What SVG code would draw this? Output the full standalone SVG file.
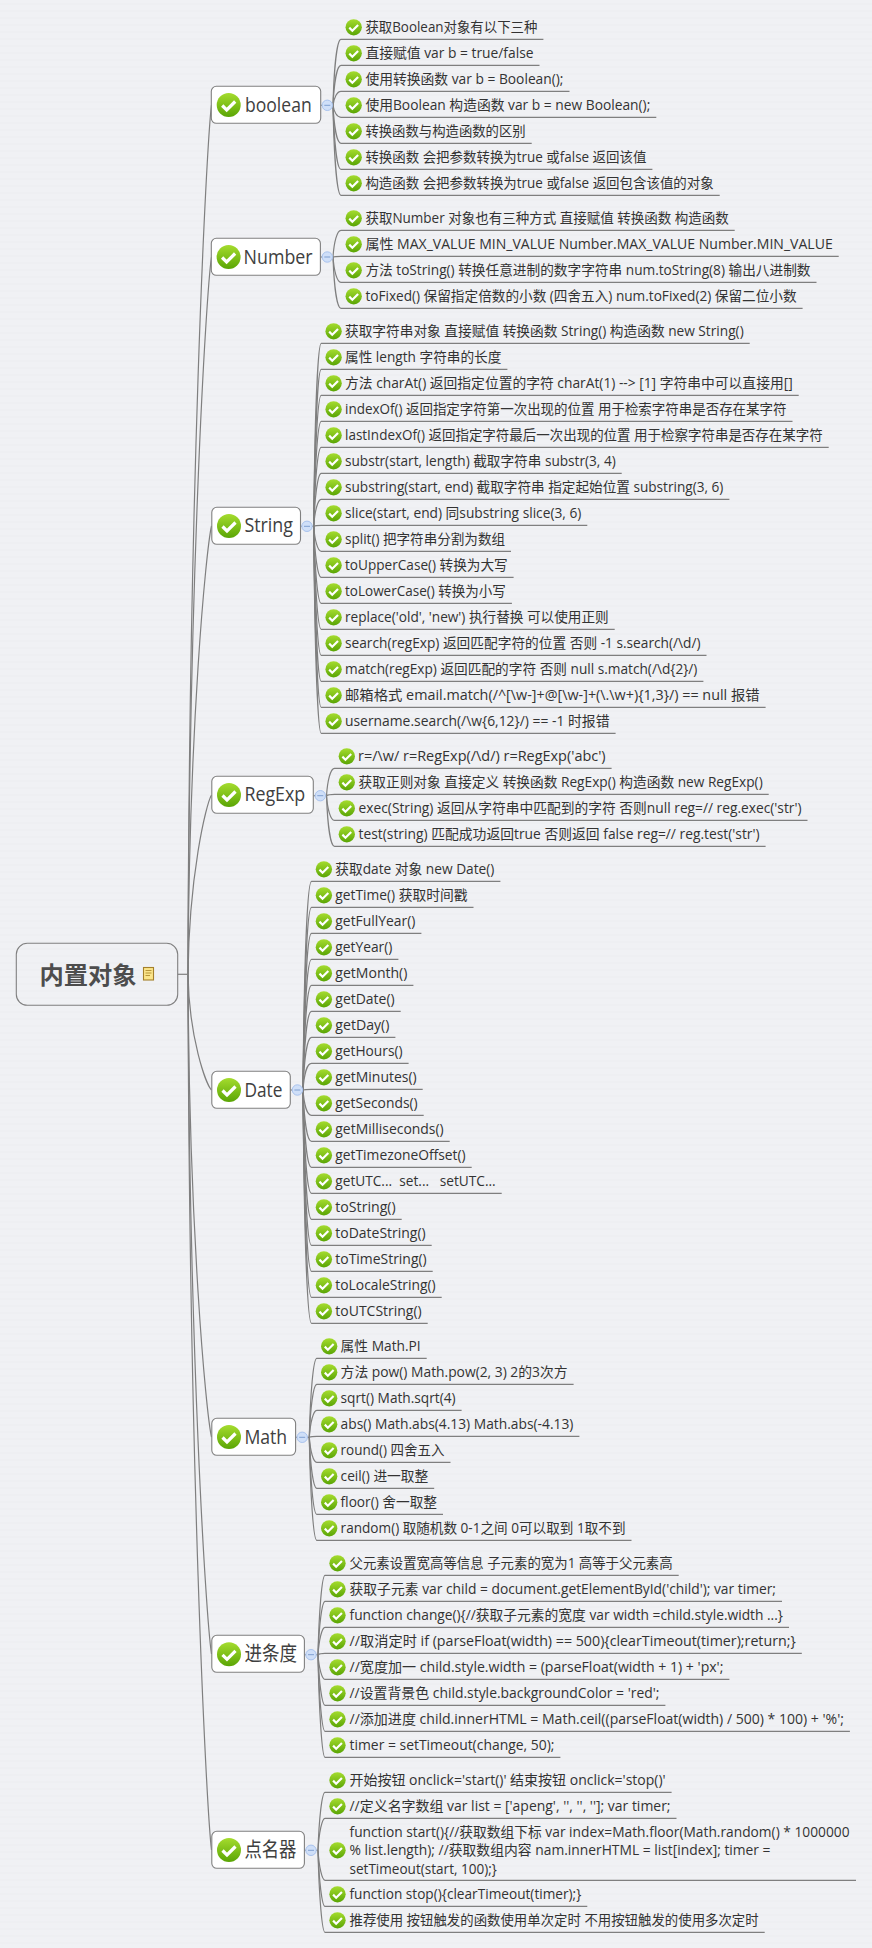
<svg xmlns="http://www.w3.org/2000/svg" width="872" height="1948" viewBox="0 0 872 1948">
<style>
text{font-family:"Open Sans","Noto Sans CJK SC",sans-serif;fill:#333;white-space:pre}
.c{font-size:13.9px}
.t{font-size:20.5px;fill:#404040}
.r{font-size:24px;font-weight:700;fill:#4d4d4d;font-family:"Noto Sans CJK SC",sans-serif}
.box{fill:#fff;stroke:#808080;stroke-width:1.1}
.lk{fill:none;stroke:#7f7f7f;stroke-width:1.2}
.btn{fill:#cfdff8;stroke:#a9c3ee;stroke-width:1}
.min{stroke:#7f9fd0;stroke-width:1}
</style>
<defs>
<pattern id="bg" width="8" height="7" patternUnits="userSpaceOnUse"><rect width="8" height="7" fill="#f0f1f4"/><rect y="3" width="8" height="2" fill="#eeeff2"/></pattern>
<linearGradient id="gr" x1="0" y1="0" x2="0" y2="1"><stop offset="0" stop-color="#a5dc2e"/><stop offset="1" stop-color="#5aa505"/></linearGradient>
<g id="ok"><circle r="12" fill="url(#gr)"/><path d="M-6.5 0.5L-2 5L6.5-3.5" fill="none" stroke="#fff" stroke-width="3.2"/></g>
<g id="btn"><circle r="5.2" class="btn"/><path d="M-3 0H3" class="min"/></g>
</defs>
<rect width="872" height="1948" fill="url(#bg)"/>
<g id="connectors" class="lk">
<path d="M177.7 974.3H188"/>
<path d="M188 974.3C189 496 206 150 211.5 105"/>
<path d="M188 974.3C189 580 206 294 211.5 257"/>
<path d="M188 974.3C189 728 206 550 211.5 526"/>
<path d="M188 974.3C189 876 206 804 211.5 795"/>
<path d="M188 974.3C189 1038 206 1084 211.5 1090"/>
<path d="M188 974.3C189 1229 206 1413 211.5 1437"/>
<path d="M188 974.3C189 1348 206 1619 211.5 1654"/>
<path d="M188 974.3C189 1456 206 1804 211.5 1850"/>
<path d="M320.7 105.3H333"/>
<path d="M333 105.3C334 69 337 39.3 341 39.3H543.4"/>
<path d="M333 105.3C334 83.3 337 65.3 341 65.3H539.5"/>
<path d="M333 105.3C334 97.6 337 91.3 341 91.3H569.5"/>
<path d="M333 105.3C334 111.9 337 117.3 341 117.3H656.3"/>
<path d="M333 105.3C334 126.2 337 143.3 341 143.3H531.7"/>
<path d="M333 105.3C334 140.5 337 169.3 341 169.3H652.4"/>
<path d="M333 105.3C334 154.8 337 195.3 341 195.3H719.7"/>
<path d="M320.4 257H333"/>
<path d="M333 257C334 242.3 337 230.3 341 230.3H734.7"/>
<path d="M333 257C334 256.6 337 256.3 341 256.3H838.7"/>
<path d="M333 257C334 270.9 337 282.3 341 282.3H816.5"/>
<path d="M333 257C334 285.2 337 308.3 341 308.3H802.6"/>
<path d="M300.5 526.3H313.7"/>
<path d="M313.7 526.3C314.7 425.6 317.7 343.3 321.2 343.3H749.7"/>
<path d="M313.7 526.3C314.7 440 317.7 369.3 321.2 369.3H507.4"/>
<path d="M313.7 526.3C314.7 454.3 317.7 395.3 321.2 395.3H798.7"/>
<path d="M313.7 526.3C314.7 468.6 317.7 421.3 321.2 421.3H792.5"/>
<path d="M313.7 526.3C314.7 482.9 317.7 447.3 321.2 447.3H828.7"/>
<path d="M313.7 526.3C314.7 497.2 317.7 473.3 321.2 473.3H621.7"/>
<path d="M313.7 526.3C314.7 511.5 317.7 499.3 321.2 499.3H729.4"/>
<path d="M313.7 526.3C314.7 525.8 317.7 525.3 321.2 525.3H587.3"/>
<path d="M313.7 526.3C314.7 540 317.7 551.3 321.2 551.3H511"/>
<path d="M313.7 526.3C314.7 554.4 317.7 577.3 321.2 577.3H513.6"/>
<path d="M313.7 526.3C314.7 568.7 317.7 603.3 321.2 603.3H511.9"/>
<path d="M313.7 526.3C314.7 583 317.7 629.3 321.2 629.3H614.7"/>
<path d="M313.7 526.3C314.7 597.3 317.7 655.3 321.2 655.3H706.5"/>
<path d="M313.7 526.3C314.7 611.6 317.7 681.3 321.2 681.3H703.4"/>
<path d="M313.7 526.3C314.7 625.9 317.7 707.3 321.2 707.3H765.6"/>
<path d="M313.7 526.3C314.7 640.2 317.7 733.3 321.2 733.3H615.6"/>
<path d="M313.3 795.7H326.5"/>
<path d="M326.5 795.7C327.5 780.6 330.5 768.3 334.5 768.3H611.6"/>
<path d="M326.5 795.7C327.5 794.9 330.5 794.3 334.5 794.3H768.7"/>
<path d="M326.5 795.7C327.5 809.2 330.5 820.3 334.5 820.3H807.5"/>
<path d="M326.5 795.7C327.5 823.5 330.5 846.3 334.5 846.3H765.6"/>
<path d="M290.3 1090H303"/>
<path d="M303 1090C304 975.2 307 881.3 311.5 881.3H500.4"/>
<path d="M303 1090C304 989.5 307 907.3 311.5 907.3H473.5"/>
<path d="M303 1090C304 1003.8 307 933.3 311.5 933.3H421.4"/>
<path d="M303 1090C304 1018.1 307 959.3 311.5 959.3H398.4"/>
<path d="M303 1090C304 1032.4 307 985.3 311.5 985.3H413.4"/>
<path d="M303 1090C304 1046.7 307 1011.3 311.5 1011.3H400.7"/>
<path d="M303 1090C304 1061 307 1037.3 311.5 1037.3H395.4"/>
<path d="M303 1090C304 1075.3 307 1063.3 311.5 1063.3H408.6"/>
<path d="M303 1090C304 1089.6 307 1089.3 311.5 1089.3H422.7"/>
<path d="M303 1090C304 1103.9 307 1115.3 311.5 1115.3H423.7"/>
<path d="M303 1090C304 1118.2 307 1141.3 311.5 1141.3H449.7"/>
<path d="M303 1090C304 1132.5 307 1167.3 311.5 1167.3H471.7"/>
<path d="M303 1090C304 1146.8 307 1193.3 311.5 1193.3H501.7"/>
<path d="M303 1090C304 1161.1 307 1219.3 311.5 1219.3H401.7"/>
<path d="M303 1090C304 1175.4 307 1245.3 311.5 1245.3H431.7"/>
<path d="M303 1090C304 1189.7 307 1271.3 311.5 1271.3H432.7"/>
<path d="M303 1090C304 1204 307 1297.3 311.5 1297.3H441.7"/>
<path d="M303 1090C304 1218.3 307 1323.3 311.5 1323.3H427.7"/>
<path d="M295.6 1437.3H309.3"/>
<path d="M309.3 1437.3C310.3 1393.9 313.3 1358.3 316.8 1358.3H426.7"/>
<path d="M309.3 1437.3C310.3 1408.2 313.3 1384.3 316.8 1384.3H573.6"/>
<path d="M309.3 1437.3C310.3 1422.5 313.3 1410.3 316.8 1410.3H461.6"/>
<path d="M309.3 1437.3C310.3 1436.8 313.3 1436.3 316.8 1436.3H579.4"/>
<path d="M309.3 1437.3C310.3 1451.1 313.3 1462.3 316.8 1462.3H450.5"/>
<path d="M309.3 1437.3C310.3 1465.4 313.3 1488.3 316.8 1488.3H434.2"/>
<path d="M309.3 1437.3C310.3 1479.7 313.3 1514.3 316.8 1514.3H443"/>
<path d="M309.3 1437.3C310.3 1494 313.3 1540.3 316.8 1540.3H631.5"/>
<path d="M304.4 1654.7H318"/>
<path d="M318 1654.7C319 1611 322 1575.3 325 1575.3H678.7"/>
<path d="M318 1654.7C319 1625.3 322 1601.3 325 1601.3H782"/>
<path d="M318 1654.7C319 1639.6 322 1627.3 325 1627.3H789"/>
<path d="M318 1654.7C319 1653.9 322 1653.3 325 1653.3H801.8"/>
<path d="M318 1654.7C319 1668.2 322 1679.3 325 1679.3H729.4"/>
<path d="M318 1654.7C319 1682.5 322 1705.3 325 1705.3H665.4"/>
<path d="M318 1654.7C319 1696.8 322 1731.3 325 1731.3H849.9"/>
<path d="M318 1654.7C319 1711.1 322 1757.3 325 1757.3H560.4"/>
<path d="M304.4 1850.3H318"/>
<path d="M318 1850.3C319 1818.4 322 1792.3 325 1792.3H671.6"/>
<path d="M318 1850.3C319 1832.7 322 1818.3 325 1818.3H676.5"/>
<path d="M318 1850.3C319 1866.8 322 1880.3 325 1880.3H856"/>
<path d="M318 1850.3C319 1881.1 322 1906.3 325 1906.3H587.3"/>
<path d="M318 1850.3C319 1895.4 322 1932.3 325 1932.3H764.7"/>
</g>
<g id="root">
<rect x="16.3" y="943.3" width="161.4" height="62" rx="11" fill="none" stroke="#808080" stroke-width="1.1"/>
<text class="r" x="39.5" y="983.5" textLength="97" lengthAdjust="spacingAndGlyphs">内置对象</text>
<rect x="143.5" y="967.5" width="10" height="12.5" fill="#fbe58a" stroke="#a5802a" stroke-width="1.1"/>
<path d="M145.5 970.5H151.5M145.5 973H151.5M145.5 975.5H150" stroke="#b08c30" stroke-width=".9" fill="none"/>
</g>
<g id="boolean"><rect class="box" x="211.3" y="86.3" width="109.4" height="37" rx="5"/><use href="#ok" x="228.7" y="105"/><text class="t" x="245" y="112" textLength="66.7" lengthAdjust="spacingAndGlyphs">boolean</text><use href="#btn" x="327.3" y="105.3"/></g>
<g id="b1"><use href="#ok" transform="translate(353.7 27.3) scale(.68)"/><text class="c" x="365.4" y="32.3" textLength="172" lengthAdjust="spacingAndGlyphs">获取Boolean对象有以下三种</text></g>
<g id="b2"><use href="#ok" transform="translate(353.7 53.3) scale(.68)"/><text class="c" x="365.4" y="58.3" textLength="168.1" lengthAdjust="spacingAndGlyphs">直接赋值 var b = true/false</text></g>
<g id="b3"><use href="#ok" transform="translate(353.7 79.3) scale(.68)"/><text class="c" x="365.4" y="84.3" textLength="198.1" lengthAdjust="spacingAndGlyphs">使用转换函数 var b = Boolean();</text></g>
<g id="b4"><use href="#ok" transform="translate(353.7 105.3) scale(.68)"/><text class="c" x="365.4" y="110.3" textLength="284.9" lengthAdjust="spacingAndGlyphs">使用Boolean 构造函数 var b = new Boolean();</text></g>
<g id="b5"><use href="#ok" transform="translate(353.7 131.3) scale(.68)"/><text class="c" x="365.4" y="136.3" textLength="160.3" lengthAdjust="spacingAndGlyphs">转换函数与构造函数的区别</text></g>
<g id="b6"><use href="#ok" transform="translate(353.7 157.3) scale(.68)"/><text class="c" x="365.4" y="162.3" textLength="281" lengthAdjust="spacingAndGlyphs">转换函数 会把参数转换为true 或false 返回该值</text></g>
<g id="b7"><use href="#ok" transform="translate(353.7 183.3) scale(.68)"/><text class="c" x="365.4" y="188.3" textLength="348.3" lengthAdjust="spacingAndGlyphs">构造函数 会把参数转换为true 或false 返回包含该值的对象</text></g>
<g id="number"><rect class="box" x="211.3" y="238.3" width="109.1" height="37" rx="5"/><use href="#ok" x="228.6" y="257"/><text class="t" x="243.6" y="264" textLength="69" lengthAdjust="spacingAndGlyphs">Number</text><use href="#btn" x="327.3" y="257"/></g>
<g id="n1"><use href="#ok" transform="translate(353.7 218.3) scale(.68)"/><text class="c" x="365.4" y="223.3" textLength="363.3" lengthAdjust="spacingAndGlyphs">获取Number 对象也有三种方式 直接赋值 转换函数 构造函数</text></g>
<g id="n2"><use href="#ok" transform="translate(353.7 244.3) scale(.68)"/><text class="c" x="365.4" y="249.3" textLength="467.3" lengthAdjust="spacingAndGlyphs">属性 MAX_VALUE MIN_VALUE Number.MAX_VALUE Number.MIN_VALUE</text></g>
<g id="n3"><use href="#ok" transform="translate(353.7 270.3) scale(.68)"/><text class="c" x="365.4" y="275.3" textLength="445.1" lengthAdjust="spacingAndGlyphs">方法 toString() 转换任意进制的数字字符串 num.toString(8) 输出八进制数</text></g>
<g id="n4"><use href="#ok" transform="translate(353.7 296.3) scale(.68)"/><text class="c" x="365.4" y="301.3" textLength="431.2" lengthAdjust="spacingAndGlyphs">toFixed() 保留指定倍数的小数 (四舍五入) num.toFixed(2) 保留二位小数</text></g>
<g id="string"><rect class="box" x="211.8" y="507.3" width="88.7" height="37" rx="5"/><use href="#ok" x="229" y="526"/><text class="t" x="244.4" y="532" textLength="48.6" lengthAdjust="spacingAndGlyphs">String</text><use href="#btn" x="307" y="526.3"/></g>
<g id="s1"><use href="#ok" transform="translate(333.6 331.3) scale(.68)"/><text class="c" x="345" y="336.3" textLength="398.7" lengthAdjust="spacingAndGlyphs">获取字符串对象 直接赋值 转换函数 String() 构造函数 new String()</text></g>
<g id="s2"><use href="#ok" transform="translate(333.6 357.3) scale(.68)"/><text class="c" x="345" y="362.3" textLength="156.4" lengthAdjust="spacingAndGlyphs">属性 length 字符串的长度</text></g>
<g id="s3"><use href="#ok" transform="translate(333.6 383.3) scale(.68)"/><text class="c" x="345" y="388.3" textLength="447.7" lengthAdjust="spacingAndGlyphs">方法 charAt() 返回指定位置的字符 charAt(1) --&gt; [1] 字符串中可以直接用[]</text></g>
<g id="s4"><use href="#ok" transform="translate(333.6 409.3) scale(.68)"/><text class="c" x="345" y="414.3" textLength="441.5" lengthAdjust="spacingAndGlyphs">indexOf() 返回指定字符第一次出现的位置 用于检索字符串是否存在某字符</text></g>
<g id="s5"><use href="#ok" transform="translate(333.6 435.3) scale(.68)"/><text class="c" x="345" y="440.3" textLength="477.7" lengthAdjust="spacingAndGlyphs">lastIndexOf() 返回指定字符最后一次出现的位置 用于检察字符串是否存在某字符</text></g>
<g id="s6"><use href="#ok" transform="translate(333.6 461.3) scale(.68)"/><text class="c" x="345" y="466.3" textLength="270.7" lengthAdjust="spacingAndGlyphs">substr(start, length) 截取字符串 substr(3, 4)</text></g>
<g id="s7"><use href="#ok" transform="translate(333.6 487.3) scale(.68)"/><text class="c" x="345" y="492.3" textLength="378.4" lengthAdjust="spacingAndGlyphs">substring(start, end) 截取字符串 指定起始位置 substring(3, 6)</text></g>
<g id="s8"><use href="#ok" transform="translate(333.6 513.3) scale(.68)"/><text class="c" x="345" y="518.3" textLength="236.3" lengthAdjust="spacingAndGlyphs">slice(start, end) 同substring slice(3, 6)</text></g>
<g id="s9"><use href="#ok" transform="translate(333.6 539.3) scale(.68)"/><text class="c" x="345" y="544.3" textLength="160" lengthAdjust="spacingAndGlyphs">split() 把字符串分割为数组</text></g>
<g id="s10"><use href="#ok" transform="translate(333.6 565.3) scale(.68)"/><text class="c" x="345" y="570.3" textLength="162.6" lengthAdjust="spacingAndGlyphs">toUpperCase() 转换为大写</text></g>
<g id="s11"><use href="#ok" transform="translate(333.6 591.3) scale(.68)"/><text class="c" x="345" y="596.3" textLength="160.9" lengthAdjust="spacingAndGlyphs">toLowerCase() 转换为小写</text></g>
<g id="s12"><use href="#ok" transform="translate(333.6 617.3) scale(.68)"/><text class="c" x="345" y="622.3" textLength="263.7" lengthAdjust="spacingAndGlyphs">replace('old', 'new') 执行替换 可以使用正则</text></g>
<g id="s13"><use href="#ok" transform="translate(333.6 643.3) scale(.68)"/><text class="c" x="345" y="648.3" textLength="355.5" lengthAdjust="spacingAndGlyphs">search(regExp) 返回匹配字符的位置 否则 -1 s.search(/\d/)</text></g>
<g id="s14"><use href="#ok" transform="translate(333.6 669.3) scale(.68)"/><text class="c" x="345" y="674.3" textLength="352.4" lengthAdjust="spacingAndGlyphs">match(regExp) 返回匹配的字符 否则 null s.match(/\d{2}/)</text></g>
<g id="s15"><use href="#ok" transform="translate(333.6 695.3) scale(.68)"/><text class="c" x="345" y="700.3" textLength="414.6" lengthAdjust="spacingAndGlyphs">邮箱格式 email.match(/^[\w-]+@[\w-]+(\.\w+){1,3}/) == null 报错</text></g>
<g id="s16"><use href="#ok" transform="translate(333.6 721.3) scale(.68)"/><text class="c" x="345" y="726.3" textLength="264.6" lengthAdjust="spacingAndGlyphs">username.search(/\w{6,12}/) == -1 时报错</text></g>
<g id="regexp"><rect class="box" x="211.8" y="776.3" width="101.5" height="37" rx="5"/><use href="#ok" x="229" y="795"/><text class="t" x="244.4" y="801" textLength="60.9" lengthAdjust="spacingAndGlyphs">RegExp</text><use href="#btn" x="320.3" y="795.7"/></g>
<g id="r1"><use href="#ok" transform="translate(346.8 756.3) scale(.68)"/><text class="c" x="358" y="761.3" textLength="247.6" lengthAdjust="spacingAndGlyphs">r=/\w/ r=RegExp(/\d/) r=RegExp('abc')</text></g>
<g id="r2"><use href="#ok" transform="translate(346.8 782.3) scale(.68)"/><text class="c" x="358.6" y="787.3" textLength="404.1" lengthAdjust="spacingAndGlyphs">获取正则对象 直接定义 转换函数 RegExp() 构造函数 new RegExp()</text></g>
<g id="r3"><use href="#ok" transform="translate(346.8 808.3) scale(.68)"/><text class="c" x="358.6" y="813.3" textLength="442.9" lengthAdjust="spacingAndGlyphs">exec(String) 返回从字符串中匹配到的字符 否则null reg=// reg.exec('str')</text></g>
<g id="r4"><use href="#ok" transform="translate(346.8 834.3) scale(.68)"/><text class="c" x="358.6" y="839.3" textLength="401" lengthAdjust="spacingAndGlyphs">test(string) 匹配成功返回true 否则返回 false reg=// reg.test('str')</text></g>
<g id="date"><rect class="box" x="211.8" y="1071.3" width="78.5" height="37" rx="5"/><use href="#ok" x="229" y="1090"/><text class="t" x="244.4" y="1097" textLength="38" lengthAdjust="spacingAndGlyphs">Date</text><use href="#btn" x="297.4" y="1090"/></g>
<g id="d1"><use href="#ok" transform="translate(323.9 869.3) scale(.68)"/><text class="c" x="335.3" y="874.3" textLength="159.1" lengthAdjust="spacingAndGlyphs">获取date 对象 new Date()</text></g>
<g id="d2"><use href="#ok" transform="translate(323.9 895.3) scale(.68)"/><text class="c" x="335.3" y="900.3" textLength="132.2" lengthAdjust="spacingAndGlyphs">getTime() 获取时间戳</text></g>
<g id="d3"><use href="#ok" transform="translate(323.9 921.3) scale(.68)"/><text class="c" x="335.3" y="926.3" textLength="80.1" lengthAdjust="spacingAndGlyphs">getFullYear()</text></g>
<g id="d4"><use href="#ok" transform="translate(323.9 947.3) scale(.68)"/><text class="c" x="335.3" y="952.3" textLength="57.1" lengthAdjust="spacingAndGlyphs">getYear()</text></g>
<g id="d5"><use href="#ok" transform="translate(323.9 973.3) scale(.68)"/><text class="c" x="335.3" y="978.3" textLength="72.1" lengthAdjust="spacingAndGlyphs">getMonth()</text></g>
<g id="d6"><use href="#ok" transform="translate(323.9 999.3) scale(.68)"/><text class="c" x="335.3" y="1004.3" textLength="59.4" lengthAdjust="spacingAndGlyphs">getDate()</text></g>
<g id="d7"><use href="#ok" transform="translate(323.9 1025.3) scale(.68)"/><text class="c" x="335.3" y="1030.3" textLength="54.1" lengthAdjust="spacingAndGlyphs">getDay()</text></g>
<g id="d8"><use href="#ok" transform="translate(323.9 1051.3) scale(.68)"/><text class="c" x="335.3" y="1056.3" textLength="67.3" lengthAdjust="spacingAndGlyphs">getHours()</text></g>
<g id="d9"><use href="#ok" transform="translate(323.9 1077.3) scale(.68)"/><text class="c" x="335.3" y="1082.3" textLength="81.4" lengthAdjust="spacingAndGlyphs">getMinutes()</text></g>
<g id="d10"><use href="#ok" transform="translate(323.9 1103.3) scale(.68)"/><text class="c" x="335.3" y="1108.3" textLength="82.4" lengthAdjust="spacingAndGlyphs">getSeconds()</text></g>
<g id="d11"><use href="#ok" transform="translate(323.9 1129.3) scale(.68)"/><text class="c" x="335.3" y="1134.3" textLength="108.4" lengthAdjust="spacingAndGlyphs">getMilliseconds()</text></g>
<g id="d12"><use href="#ok" transform="translate(323.9 1155.3) scale(.68)"/><text class="c" x="335.3" y="1160.3" textLength="130.4" lengthAdjust="spacingAndGlyphs">getTimezoneOffset()</text></g>
<g id="d13"><use href="#ok" transform="translate(323.9 1181.3) scale(.68)"/><text class="c" x="335.3" y="1186.3" textLength="160.4" lengthAdjust="spacingAndGlyphs">getUTC...  set...   setUTC...</text></g>
<g id="d14"><use href="#ok" transform="translate(323.9 1207.3) scale(.68)"/><text class="c" x="335.3" y="1212.3" textLength="60.4" lengthAdjust="spacingAndGlyphs">toString()</text></g>
<g id="d15"><use href="#ok" transform="translate(323.9 1233.3) scale(.68)"/><text class="c" x="335.3" y="1238.3" textLength="90.4" lengthAdjust="spacingAndGlyphs">toDateString()</text></g>
<g id="d16"><use href="#ok" transform="translate(323.9 1259.3) scale(.68)"/><text class="c" x="335.3" y="1264.3" textLength="91.4" lengthAdjust="spacingAndGlyphs">toTimeString()</text></g>
<g id="d17"><use href="#ok" transform="translate(323.9 1285.3) scale(.68)"/><text class="c" x="335.3" y="1290.3" textLength="100.4" lengthAdjust="spacingAndGlyphs">toLocaleString()</text></g>
<g id="d18"><use href="#ok" transform="translate(323.9 1311.3) scale(.68)"/><text class="c" x="335.3" y="1316.3" textLength="86.4" lengthAdjust="spacingAndGlyphs">toUTCString()</text></g>
<g id="math"><rect class="box" x="211.8" y="1418.3" width="83.8" height="37" rx="5"/><use href="#ok" x="229" y="1437"/><text class="t" x="244.4" y="1444" textLength="42.8" lengthAdjust="spacingAndGlyphs">Math</text><use href="#btn" x="302.2" y="1437.3"/></g>
<g id="m1"><use href="#ok" transform="translate(329.2 1346.3) scale(.68)"/><text class="c" x="340.6" y="1351.3" textLength="80.1" lengthAdjust="spacingAndGlyphs">属性 Math.PI</text></g>
<g id="m2"><use href="#ok" transform="translate(329.2 1372.3) scale(.68)"/><text class="c" x="340.6" y="1377.3" textLength="227" lengthAdjust="spacingAndGlyphs">方法 pow() Math.pow(2, 3) 2的3次方</text></g>
<g id="m3"><use href="#ok" transform="translate(329.2 1398.3) scale(.68)"/><text class="c" x="340.6" y="1403.3" textLength="115" lengthAdjust="spacingAndGlyphs">sqrt() Math.sqrt(4)</text></g>
<g id="m4"><use href="#ok" transform="translate(329.2 1424.3) scale(.68)"/><text class="c" x="340.6" y="1429.3" textLength="232.8" lengthAdjust="spacingAndGlyphs">abs() Math.abs(4.13) Math.abs(-4.13)</text></g>
<g id="m5"><use href="#ok" transform="translate(329.2 1450.3) scale(.68)"/><text class="c" x="340.6" y="1455.3" textLength="103.9" lengthAdjust="spacingAndGlyphs">round() 四舍五入</text></g>
<g id="m6"><use href="#ok" transform="translate(329.2 1476.3) scale(.68)"/><text class="c" x="340.6" y="1481.3" textLength="87.6" lengthAdjust="spacingAndGlyphs">ceil() 进一取整</text></g>
<g id="m7"><use href="#ok" transform="translate(329.2 1502.3) scale(.68)"/><text class="c" x="340.6" y="1507.3" textLength="96.4" lengthAdjust="spacingAndGlyphs">floor() 舍一取整</text></g>
<g id="m8"><use href="#ok" transform="translate(329.2 1528.3) scale(.68)"/><text class="c" x="340.6" y="1533.3" textLength="284.9" lengthAdjust="spacingAndGlyphs">random() 取随机数 0-1之间 0可以取到 1取不到</text></g>
<g id="progress"><rect class="box" x="211.8" y="1635.3" width="92.6" height="37" rx="5"/><use href="#ok" x="229" y="1654.3"/><text class="t" x="244.4" y="1661" textLength="52.6" lengthAdjust="spacingAndGlyphs">进条度</text><use href="#btn" x="311" y="1654.7"/></g>
<g id="p1"><use href="#ok" transform="translate(337.5 1563.3) scale(.68)"/><text class="c" x="349.5" y="1568.3" textLength="323.2" lengthAdjust="spacingAndGlyphs">父元素设置宽高等信息 子元素的宽为1 高等于父元素高</text></g>
<g id="p2"><use href="#ok" transform="translate(337.5 1589.3) scale(.68)"/><text class="c" x="349.5" y="1594.3" textLength="426.5" lengthAdjust="spacingAndGlyphs">获取子元素 var child = document.getElementById('child'); var timer;</text></g>
<g id="p3"><use href="#ok" transform="translate(337.5 1615.3) scale(.68)"/><text class="c" x="349.5" y="1620.3" textLength="433.5" lengthAdjust="spacingAndGlyphs">function change(){//获取子元素的宽度 var width =child.style.width ...}</text></g>
<g id="p4"><use href="#ok" transform="translate(337.5 1641.3) scale(.68)"/><text class="c" x="349.5" y="1646.3" textLength="446.3" lengthAdjust="spacingAndGlyphs">//取消定时 if (parseFloat(width) == 500){clearTimeout(timer);return;}</text></g>
<g id="p5"><use href="#ok" transform="translate(337.5 1667.3) scale(.68)"/><text class="c" x="349.5" y="1672.3" textLength="373.9" lengthAdjust="spacingAndGlyphs">//宽度加一 child.style.width = (parseFloat(width + 1) + 'px';</text></g>
<g id="p6"><use href="#ok" transform="translate(337.5 1693.3) scale(.68)"/><text class="c" x="349.5" y="1698.3" textLength="309.9" lengthAdjust="spacingAndGlyphs">//设置背景色 child.style.backgroundColor = 'red';</text></g>
<g id="p7"><use href="#ok" transform="translate(337.5 1719.3) scale(.68)"/><text class="c" x="349.5" y="1724.3" textLength="494.4" lengthAdjust="spacingAndGlyphs">//添加进度 child.innerHTML = Math.ceil((parseFloat(width) / 500) * 100) + '%';</text></g>
<g id="p8"><use href="#ok" transform="translate(337.5 1745.3) scale(.68)"/><text class="c" x="349.5" y="1750.3" textLength="204.9" lengthAdjust="spacingAndGlyphs">timer = setTimeout(change, 50);</text></g>
<g id="roll"><rect class="box" x="211.8" y="1831.3" width="92.6" height="37" rx="5"/><use href="#ok" x="229" y="1850"/><text class="t" x="244.4" y="1857" textLength="52" lengthAdjust="spacingAndGlyphs">点名器</text><use href="#btn" x="311" y="1850.3"/></g>
<g id="q1"><use href="#ok" transform="translate(337.5 1780.3) scale(.68)"/><text class="c" x="349.5" y="1785.3" textLength="316.1" lengthAdjust="spacingAndGlyphs">开始按钮 onclick='start()' 结束按钮 onclick='stop()'</text></g>
<g id="q2"><use href="#ok" transform="translate(337.5 1806.3) scale(.68)"/><text class="c" x="349.5" y="1811.3" textLength="321" lengthAdjust="spacingAndGlyphs">//定义名字数组 var list = ['apeng', '', '', '']; var timer;</text></g>
<g id="q3"><use href="#ok" transform="translate(337.5 1850.3) scale(.68)"/><text class="c" x="349.5" y="1837.3" textLength="500" lengthAdjust="spacingAndGlyphs">function start(){//获取数组下标 var index=Math.floor(Math.random() * 1000000</text><text class="c" x="349.5" y="1855.3" textLength="421" lengthAdjust="spacingAndGlyphs">% list.length); //获取数组内容 nam.innerHTML = list[index]; timer =</text><text class="c" x="349.5" y="1873.6" textLength="147.4" lengthAdjust="spacingAndGlyphs">setTimeout(start, 100);}</text></g>
<g id="q4"><use href="#ok" transform="translate(337.5 1894.3) scale(.68)"/><text class="c" x="349.5" y="1899.3" textLength="231.8" lengthAdjust="spacingAndGlyphs">function stop(){clearTimeout(timer);}</text></g>
<g id="q5"><use href="#ok" transform="translate(337.5 1920.3) scale(.68)"/><text class="c" x="349.5" y="1925.3" textLength="409.2" lengthAdjust="spacingAndGlyphs">推荐使用 按钮触发的函数使用单次定时 不用按钮触发的使用多次定时</text></g>
</svg>
